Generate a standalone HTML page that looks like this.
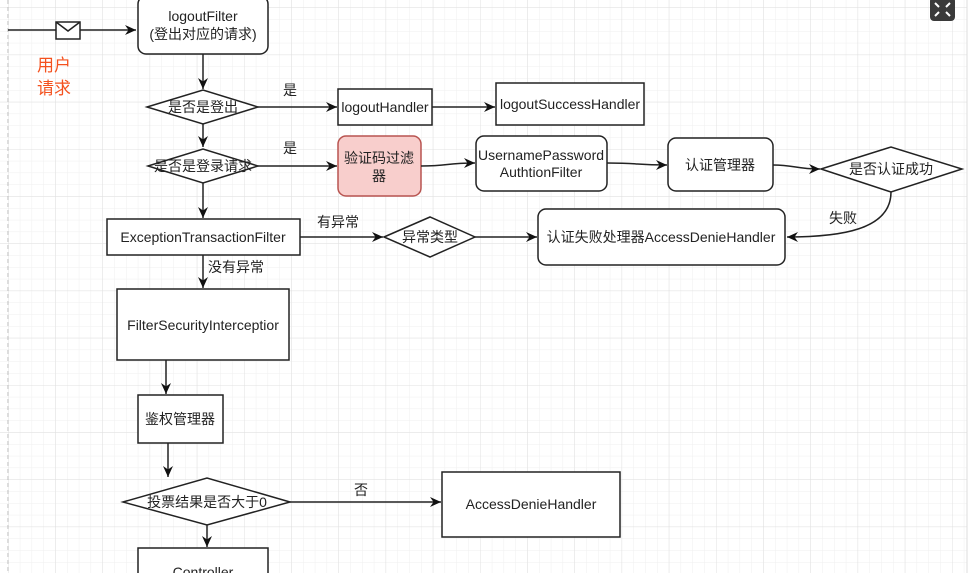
<!DOCTYPE html>
<html><head><meta charset="utf-8"><style>
html,body{margin:0;padding:0;background:#fff;}
svg{display:block;}
text{font-family:"Liberation Sans","Noto Sans CJK SC",sans-serif;font-size:14px;fill:#222;}
</style></head><body>
<svg width="975" height="573" viewBox="0 0 975 573" xmlns="http://www.w3.org/2000/svg">
<defs>
<pattern id="minor" x="8" y="7.4" width="11.8" height="11.8" patternUnits="userSpaceOnUse">
<path d="M0 0H11.8M0 0V11.8" stroke="#efefef" stroke-width="1" fill="none"/>
</pattern>
<pattern id="major" x="8" y="7.4" width="47.2" height="47.2" patternUnits="userSpaceOnUse">
<path d="M0 0H47.2M0 0V47.2" stroke="#e0e0e0" stroke-width="1" fill="none"/>
</pattern>
<marker id="ar" markerWidth="12" markerHeight="12" refX="11" refY="6" orient="auto" markerUnits="userSpaceOnUse">
<path d="M0 1L11 6L0 11L3.5 6Z" fill="#111"/>
</marker>
</defs>
<rect width="967" height="573" fill="url(#minor)"/>
<rect width="967" height="573" fill="url(#major)"/>
<line x1="8" y1="0" x2="8" y2="573" stroke="#bbb" stroke-dasharray="4,3"/>
<line x1="967" y1="0" x2="967" y2="573" stroke="#ddd"/>
<rect x="930" y="-3" width="25" height="24" rx="4" fill="#3a3a3a"/>
<g stroke="#fff" stroke-width="2" fill="none">
<path d="M935 3L939 7M950 3L946 7M935 16L939 12M950 16L946 12"/>
</g>

<g stroke="#222" stroke-width="1.5" fill="none">
<line x1="8" y1="30" x2="136" y2="30" marker-end="url(#ar)"/>
<rect x="56" y="22" width="24" height="17" fill="#fff"/>
<path d="M56 22L68 31L80 22"/>
<rect x="138" y="-4" width="130" height="58" rx="8" fill="#fff"/>
<line x1="203" y1="54" x2="203" y2="89" marker-end="url(#ar)"/>
<polygon points="147,107 203,90 258,107 203,124" fill="#fff"/>
<line x1="258" y1="107" x2="337" y2="107" marker-end="url(#ar)"/>
<rect x="338" y="89" width="94" height="36" fill="#fff"/>
<line x1="432" y1="107" x2="495" y2="107" marker-end="url(#ar)"/>
<rect x="496" y="83" width="148" height="42" fill="#fff"/>
<line x1="203" y1="124" x2="203" y2="147" marker-end="url(#ar)"/>
<polygon points="148,166 203,149 258,166 203,183" fill="#fff"/>
<line x1="258" y1="166" x2="337" y2="166" marker-end="url(#ar)"/>
<rect x="338" y="136" width="83" height="60" rx="8" fill="#f8cecc" stroke="#b85450"/>
<path d="M421 166C450 166 445 163 475 163" marker-end="url(#ar)"/>
<rect x="476" y="136" width="131" height="55" rx="8" fill="#fff"/>
<path d="M607 163C640 163 635 165 667 165" marker-end="url(#ar)"/>
<rect x="668" y="138" width="105" height="53" rx="8" fill="#fff"/>
<path d="M773 165C795 165 795 169 820 169" marker-end="url(#ar)"/>
<polygon points="821,169 891,147 962,169 891,192" fill="#fff"/>
<path d="M891 192C891 230 840 237 787 237" marker-end="url(#ar)"/>
<rect x="538" y="209" width="247" height="56" rx="8" fill="#fff"/>
<line x1="203" y1="183" x2="203" y2="218" marker-end="url(#ar)"/>
<rect x="107" y="219" width="193" height="36" fill="#fff"/>
<line x1="300" y1="237" x2="383" y2="237" marker-end="url(#ar)"/>
<polygon points="384,237 430,217 475,237 430,257" fill="#fff"/>
<line x1="475" y1="237" x2="537" y2="237" marker-end="url(#ar)"/>
<line x1="203" y1="255" x2="203" y2="288" marker-end="url(#ar)"/>
<rect x="117" y="289" width="172" height="71" fill="#fff"/>
<line x1="166" y1="360" x2="166" y2="394" marker-end="url(#ar)"/>
<rect x="138" y="395" width="85" height="48" fill="#fff"/>
<line x1="168" y1="443" x2="168" y2="477" marker-end="url(#ar)"/>
<polygon points="123,502 207,478 290,502 207,525" fill="#fff"/>
<line x1="290" y1="502" x2="441" y2="502" marker-end="url(#ar)"/>
<rect x="442" y="472" width="178" height="65" fill="#fff"/>
<line x1="207" y1="525" x2="207" y2="547" marker-end="url(#ar)"/>
<rect x="138" y="548" width="130" height="40" fill="#fff"/>
</g>

<text x="203" y="21" text-anchor="middle">logoutFilter</text>
<text x="203" y="39" text-anchor="middle">(登出对应的请求)</text>
<text x="37" y="71" style="fill:#f4511e;font-size:17px">用户</text>
<text x="37" y="94" style="fill:#f4511e;font-size:17px">请求</text>
<text x="203" y="112" text-anchor="middle">是否是登出</text>
<text x="290" y="95" text-anchor="middle">是</text>
<text x="385" y="112" text-anchor="middle">logoutHandler</text>
<text x="570" y="109" text-anchor="middle">logoutSuccessHandler</text>
<text x="203" y="171" text-anchor="middle">是否是登录请求</text>
<text x="290" y="153" text-anchor="middle">是</text>
<text x="379" y="163" text-anchor="middle">验证码过滤</text>
<text x="379" y="181" text-anchor="middle">器</text>
<text x="541" y="160" text-anchor="middle">UsernamePassword</text>
<text x="541" y="177" text-anchor="middle">AuthtionFilter</text>
<text x="720" y="170" text-anchor="middle">认证管理器</text>
<text x="891" y="174" text-anchor="middle">是否认证成功</text>
<text x="843" y="223" text-anchor="middle">失败</text>
<text x="661" y="242" text-anchor="middle">认证失败处理器AccessDenieHandler</text>
<text x="203" y="242" text-anchor="middle">ExceptionTransactionFilter</text>
<text x="338" y="227" text-anchor="middle">有异常</text>
<text x="430" y="242" text-anchor="middle">异常类型</text>
<text x="236" y="272" text-anchor="middle">没有异常</text>
<text x="203" y="330" text-anchor="middle">FilterSecurityInterceptior</text>
<text x="180" y="424" text-anchor="middle">鉴权管理器</text>
<text x="207" y="507" text-anchor="middle">投票结果是否大于0</text>
<text x="361" y="495" text-anchor="middle">否</text>
<text x="531" y="509" text-anchor="middle">AccessDenieHandler</text>
<text x="203" y="577" text-anchor="middle">Controller</text>
</svg>
</body></html>
